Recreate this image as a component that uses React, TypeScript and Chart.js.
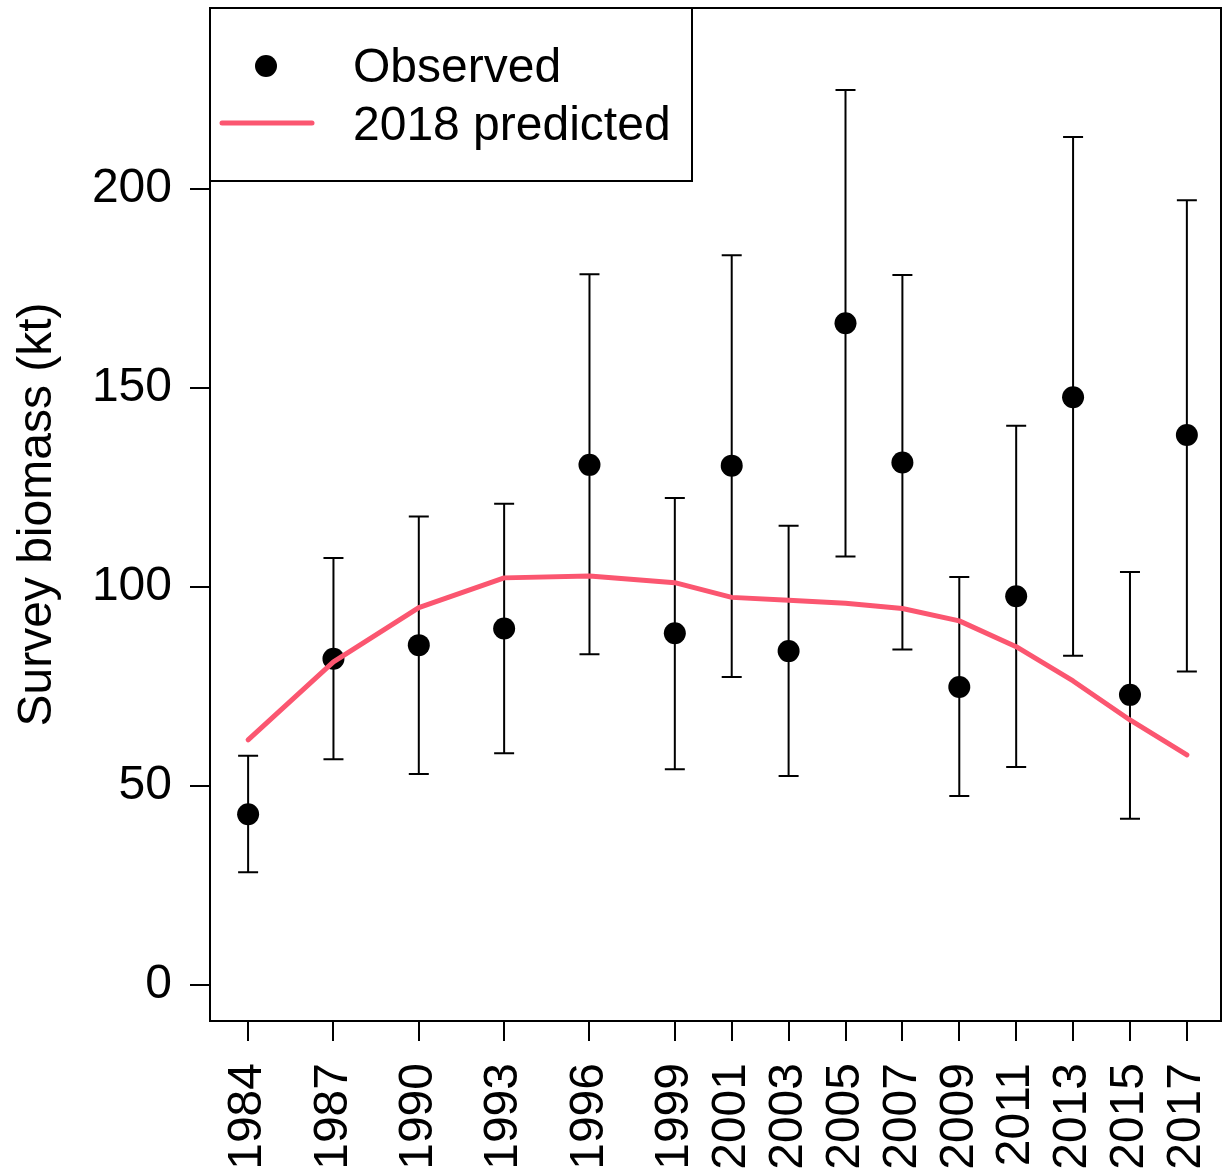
import React, { useEffect, useRef } from "react";
import { Chart, registerables } from "chart.js";

Chart.register(...registerables);

// Survey years and observed biomass (kt) with interval bounds
const years = [1984, 1987, 1990, 1993, 1996, 1999, 2001, 2003, 2005, 2007, 2009, 2011, 2013, 2015, 2017];
const observed = [42.9, 82.0, 85.4, 89.6, 130.7, 88.4, 130.5, 83.9, 166.3, 131.3, 74.9, 97.7, 147.7, 72.9, 138.2];
const lower = [28.3, 56.7, 53.0, 58.2, 83.1, 54.2, 77.4, 52.5, 107.7, 84.3, 47.5, 54.8, 82.7, 41.8, 78.8];
const upper = [57.6, 107.3, 117.7, 120.9, 178.6, 122.4, 183.4, 115.4, 224.9, 178.4, 102.5, 140.5, 213.1, 103.8, 197.2];
// Model fit from the 2018 assessment
const predicted = [61.6, 81.2, 94.8, 102.3, 102.8, 101.1, 97.4, 96.7, 95.9, 94.6, 91.5, 85.0, 76.4, 66.6, 57.8];
const yTicks = [0, 50, 100, 150, 200];

const FONT = "'Liberation Sans', Arial, Helvetica, sans-serif";
const FONT_SIZE = 48;
const LINE_COLOR = "#FB5670";

const errorBars = {
  id: "errorBars",
  beforeDatasetsDraw(chart: any) {
    const { ctx, scales } = chart;
    const xs = scales.x;
    const ys = scales.y;
    ctx.save();
    ctx.strokeStyle = "#000";
    ctx.lineWidth = 2;
    for (let i = 0; i < years.length; i++) {
      const x = xs.getPixelForValue(years[i]);
      const yl = ys.getPixelForValue(lower[i]);
      const yu = ys.getPixelForValue(upper[i]);
      ctx.beginPath();
      ctx.moveTo(x, yl);
      ctx.lineTo(x, yu);
      ctx.moveTo(x - 10, yl);
      ctx.lineTo(x + 10, yl);
      ctx.moveTo(x - 10, yu);
      ctx.lineTo(x + 10, yu);
      ctx.stroke();
    }
    ctx.restore();
  },
};

const frameAndLegend = {
  id: "frameAndLegend",
  afterDraw(chart: any) {
    const { ctx, chartArea } = chart;
    const { left, top, right, bottom } = chartArea;
    ctx.save();
    ctx.strokeStyle = "#000";
    ctx.lineWidth = 2;
    ctx.strokeRect(left, top, right - left, bottom - top);

    // legend box in the top-left corner
    const bw = 482;
    const bh = 173;
    ctx.fillStyle = "#fff";
    ctx.fillRect(left, top, bw, bh);
    ctx.strokeRect(left, top, bw, bh);

    ctx.fillStyle = "#000";
    ctx.beginPath();
    ctx.arc(left + 56, top + 58, 11, 0, Math.PI * 2);
    ctx.fill();

    ctx.strokeStyle = LINE_COLOR;
    ctx.lineWidth = 5;
    ctx.lineCap = "round";
    ctx.beginPath();
    ctx.moveTo(left + 12, top + 115);
    ctx.lineTo(left + 102, top + 115);
    ctx.stroke();

    ctx.fillStyle = "#000";
    ctx.font = `${FONT_SIZE}px ${FONT}`;
    ctx.textAlign = "left";
    ctx.textBaseline = "middle";
    ctx.fillText("Observed", left + 143, top + 61);
    ctx.fillText("2018 predicted", left + 143, top + 119);
    ctx.restore();
  },
};

export default function App() {
  const ref = useRef<HTMLCanvasElement>(null);

  useEffect(() => {
    if (!ref.current) return;
    const chart = new Chart(ref.current, {
      type: "scatter",
      data: {
        datasets: [
          {
            label: "2018 predicted",
            data: years.map((y, i) => ({ x: y, y: predicted[i] })),
            showLine: true,
            borderColor: LINE_COLOR,
            borderWidth: 5,
            borderCapStyle: "round",
            borderJoinStyle: "round",
            pointRadius: 0,
            fill: false,
          } as any,
          {
            label: "Observed",
            data: years.map((y, i) => ({ x: y, y: observed[i] })),
            pointRadius: 11,
            pointBackgroundColor: "#000",
            pointBorderWidth: 0,
            showLine: false,
          } as any,
        ],
      },
      options: {
        responsive: false,
        animation: false,
        layout: { autoPadding: false, padding: { top: 8, right: 2, left: 0, bottom: 0 } },
        plugins: {
          legend: { display: false },
          tooltip: { enabled: false },
        },
        scales: {
          x: {
            type: "linear",
            position: "bottom",
            min: 1982.66,
            max: 2018.2,
            afterBuildTicks: (scale: any) => {
              scale.ticks = years.map((v) => ({ value: v }));
            },
            afterFit: (scale: any) => {
              scale.height = 150;
              scale.paddingLeft = 0;
              scale.paddingRight = 0;
            },
            grid: {
              display: true,
              drawOnChartArea: false,
              drawTicks: true,
              tickLength: 20,
              color: "#000",
              lineWidth: 2,
            },
            border: { display: false },
            ticks: {
              autoSkip: false,
              minRotation: 90,
              maxRotation: 90,
              padding: 22,
              color: "#000",
              font: { family: FONT, size: FONT_SIZE },
              callback: (v: any) => String(v),
            },
          },
          y: {
            type: "linear",
            position: "left",
            min: -9.05,
            max: 245.5,
            afterBuildTicks: (scale: any) => {
              scale.ticks = yTicks.map((v) => ({ value: v }));
            },
            afterFit: (scale: any) => {
              scale.width = 210;
              scale.paddingTop = 0;
              scale.paddingBottom = 0;
            },
            grid: {
              display: true,
              drawOnChartArea: false,
              drawTicks: true,
              tickLength: 20,
              color: "#000",
              lineWidth: 2,
            },
            border: { display: false },
            ticks: {
              padding: 18,
              color: "#000",
              font: { family: FONT, size: FONT_SIZE },
              callback: (v: any) => String(v),
            },
            title: {
              display: true,
              text: "Survey biomass (kt)",
              color: "#000",
              font: { family: FONT, size: FONT_SIZE },
              padding: { top: 9, bottom: 0 },
            },
          },
        },
      },
      plugins: [errorBars, frameAndLegend],
    });
    return () => chart.destroy();
  }, []);

  return (
    <div style={{ position: "absolute", left: 0, top: 0, width: 1223, height: 1171, background: "#fff" }}>
      <canvas ref={ref} width={1223} height={1171} />
    </div>
  );
}
